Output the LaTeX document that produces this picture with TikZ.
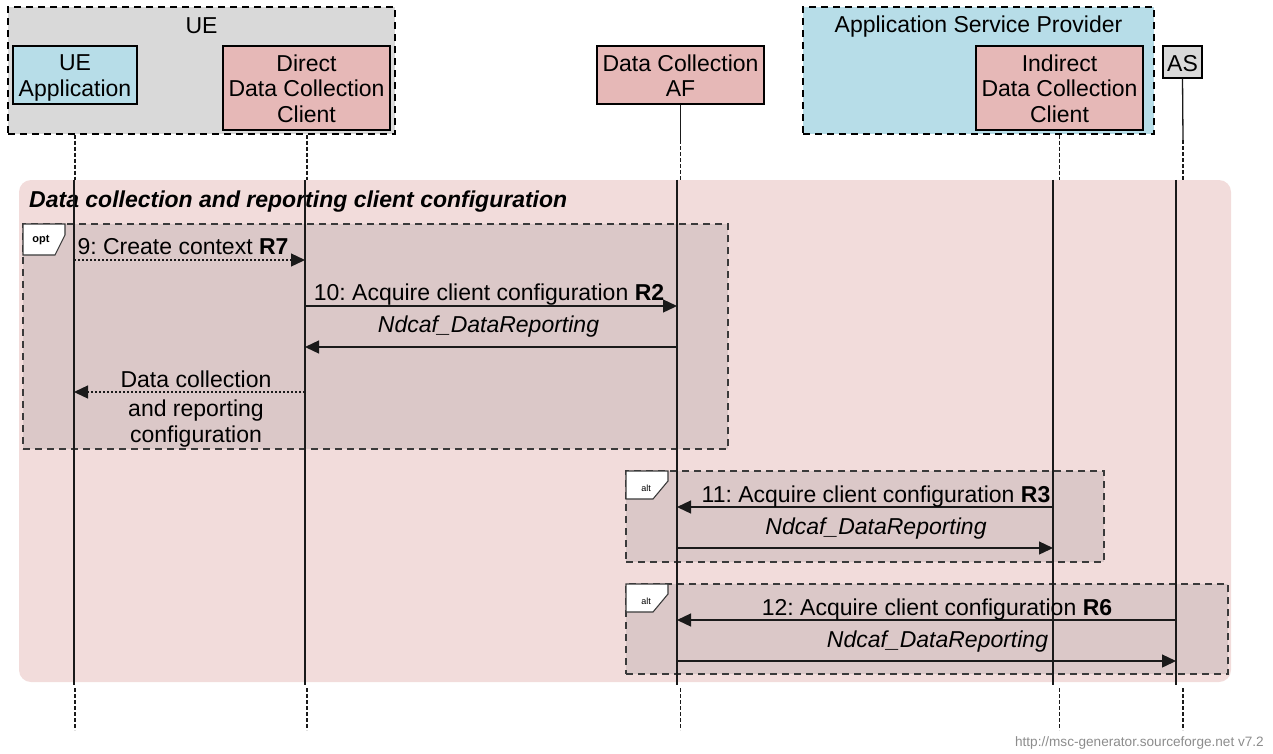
\documentclass[tikz,border=0pt]{standalone}
\usepackage{fontspec}
\setmainfont{Liberation Sans}
\usetikzlibrary{arrows.meta}
\definecolor{uegray}{HTML}{D9D9D9}
\definecolor{lblue}{HTML}{B7DDE8}
\definecolor{epink}{HTML}{E6B8B7}
\definecolor{bgpink}{HTML}{F2DCDB}
\definecolor{optfill}{HTML}{DBC8C8}
\definecolor{optline}{HTML}{3A3A3A}
\definecolor{credit}{HTML}{8C8C8C}
\definecolor{lineblk}{HTML}{1A1A1A}
\frenchspacing
\begin{document}
\begin{tikzpicture}[x=1pt,y=-1pt,
  grp/.style={draw=black, line width=1.1pt, dash pattern=on 7pt off 5pt, inner sep=0pt},
  entbox/.style={draw=black, line width=1.1pt, inner sep=0pt},
  optbox/.style={draw=optline, fill=optfill, line width=1.1pt, dash pattern=on 7pt off 5pt, inner sep=0pt},
  tagshape/.style={draw=optline, fill=white, line width=1.1pt},
  lbl/.style={font=\fontsize{23}{25.5}\selectfont, inner sep=0pt, align=center},
  bl/.style={lbl, anchor=base},
  itl/.style={bl, font=\fontsize{23}{25.5}\selectfont\itshape},
  life/.style={draw=lineblk, line width=1.3pt},
  lifedash/.style={draw=lineblk, line width=1.3pt, dash pattern=on 4pt off 2pt},
  msg/.style={draw=lineblk, line width=1.3pt, -{Triangle[length=14pt,width=13pt]}},
  dotmsg/.style={msg, dash pattern=on 2pt off 2pt},
]
\useasboundingbox (0,0) rectangle (1273,753);

% groups
\node[grp, fill=uegray, minimum width=387pt, minimum height=127pt] (ue) at (201.5,70.5) {};
\node[grp, fill=lblue, minimum width=351pt, minimum height=127pt] (asp) at (978.5,70.5) {};
\node[bl] (uet) at (201.5,33) {UE};
\node[bl] (aspt) at (978.5,32) {Application Service Provider};

% entities
\node[entbox, fill=lblue, minimum width=124pt, minimum height=58pt] (ueapp) at (75,75) {};
\node[lbl] (ueappt) at (75,78.1) {UE\\Application};
\node[entbox, fill=epink, minimum width=167pt, minimum height=84pt] (dcc) at (306.5,88) {};
\node[lbl] (dcct) at (306.5,88.5) {Direct\\Data Collection\\Client};
\node[entbox, fill=epink, minimum width=167pt, minimum height=58pt] (af) at (680.5,75) {};
\node[lbl] (aft) at (680.5,75.8) {Data Collection\\AF};
\node[entbox, fill=epink, minimum width=167pt, minimum height=84pt] (idcc) at (1059.5,88) {};
\node[lbl] (idcct) at (1059.5,88.5) {Indirect\\Data Collection\\Client};
\node[entbox, fill=uegray, minimum width=39pt, minimum height=32pt] (as) at (1182.5,62) {};
\node[bl] (ast) at (1182.5,71) {AS};

% phase box
\node[fill=bgpink, rounded corners=12pt, minimum width=1212pt, minimum height=502pt, inner sep=0pt] (phase) at (625,431) {};
\node[lbl, anchor=base west, font=\fontsize{23}{25.5}\selectfont\bfseries\itshape] (title) at (29,207) {Data collection and reporting client configuration};

% opt / alt boxes
\node[optbox, minimum width=705pt, minimum height=225pt] (opt) at (375.5,336.5) {};
\node[optbox, minimum width=478pt, minimum height=91pt] (alta) at (865,516.5) {};
\node[optbox, minimum width=602pt, minimum height=90pt] (altb) at (927,629) {};

% lifeline x positions
\coordinate (x1) at (74,0);   \coordinate (X1) at (75,0);
\coordinate (x2) at (305,0);  \coordinate (X2) at (307,0);
\coordinate (x3) at (677,0);  \coordinate (X3) at (680.5,0);
\coordinate (x4) at (1053,0); \coordinate (X4) at (1059.5,0);
\coordinate (x5) at (1176,0); \coordinate (X5) at (1183,0);

% lifelines above phase
\draw[lifedash] (X1 |- ue.south) -- (X1 |- phase.north);
\draw[lifedash] (X2 |- ue.south) -- (X2 |- phase.north);
\draw[life] (af.south) -- (X3 |- 0,140);
\draw[lifedash] (X3 |- 0,140) -- (X3 |- phase.north);
\draw[lifedash] (X4 |- asp.south) -- (X4 |- phase.north);
\draw[life] (as.south) -- (X5 |- 0,140);
\draw[lifedash] (X5 |- 0,140) -- (X5 |- phase.north);

% lifelines inside phase
\foreach \c in {x1,x2,x3,x4,x5} {
  \draw[life] (\c |- phase.north) -- (\c |- 0,685);
}
% lifelines below phase
\foreach \c in {X1,X2,X3,X4,X5} {
  \draw[lifedash] (\c |- 0,688) -- (\c |- 0,730);
}

% tags
\draw[tagshape] (23,224) -- (65,224) -- (65,235) -- (55,255) -- (23,255) -- cycle;
\node[inner sep=0pt, font=\fontsize{11}{11}\selectfont\bfseries] (optt) at (41,240) {opt};
\draw[tagshape] (626,471) -- (668,471) -- (668,481) -- (653,499) -- (626,499) -- cycle;
\node[inner sep=0pt, font=\fontsize{9}{9}\selectfont] (altat) at (646,488) {alt};
\draw[tagshape] (626,584) -- (668,584) -- (668,594) -- (653,612) -- (626,612) -- cycle;
\node[inner sep=0pt, font=\fontsize{9}{9}\selectfont] (altbt) at (646,601) {alt};

% messages
\coordinate (m9a) at (x1 |- 0,260);  \coordinate (m9b) at (x2 |- 0,260);
\draw[dotmsg] (m9a) -- (m9b);
\node[bl] (l9) at (183,254) {9: Create context \textbf{R7}};

\coordinate (m10a) at (x2 |- 0,306);  \coordinate (m10b) at (x3 |- 0,306);
\draw[msg] (m10a) -- (m10b);
\node[bl] (l10) at (489,300) {10: Acquire client configuration \textbf{R2}};

\coordinate (r10a) at (x3 |- 0,347);  \coordinate (r10b) at (x2 |- 0,347);
\draw[msg] (r10a) -- (r10b);
\node[itl] (lr10) at (488.5,332) {Ndcaf\_DataReporting};

\coordinate (dca) at (x2 |- 0,392);  \coordinate (dcb) at (x1 |- 0,392);
\draw[dotmsg] (dca) -- (dcb);
\node[bl] (ldc1) at (196,387) {Data collection};
\node[bl] (ldc2) at (196,416) {and reporting};
\node[bl] (ldc3) at (196,442) {configuration};

\coordinate (m11a) at (x4 |- 0,507);  \coordinate (m11b) at (x3 |- 0,507);
\draw[msg] (m11a) -- (m11b);
\node[bl] (l11) at (876,502) {11: Acquire client configuration \textbf{R3}};

\coordinate (r11a) at (x3 |- 0,548);  \coordinate (r11b) at (x4 |- 0,548);
\draw[msg] (r11a) -- (r11b);
\node[itl] (lr11) at (876,534) {Ndcaf\_DataReporting};

\coordinate (m12a) at (x5 |- 0,620);  \coordinate (m12b) at (x3 |- 0,620);
\draw[msg] (m12a) -- (m12b);
\node[bl] (l12) at (937,615) {12: Acquire client configuration \textbf{R6}};

\coordinate (r12a) at (x3 |- 0,661);  \coordinate (r12b) at (x5 |- 0,661);
\draw[msg] (r12a) -- (r12b);
\node[itl] (lr12) at (937.5,647) {Ndcaf\_DataReporting};

% credit
\node[inner sep=0pt, anchor=base east, text=credit, font=\fontsize{13.6}{14}\selectfont] (cred) at (1264,746) {http://msc-generator.sourceforge.net v7.2};
\end{tikzpicture}
\end{document}
